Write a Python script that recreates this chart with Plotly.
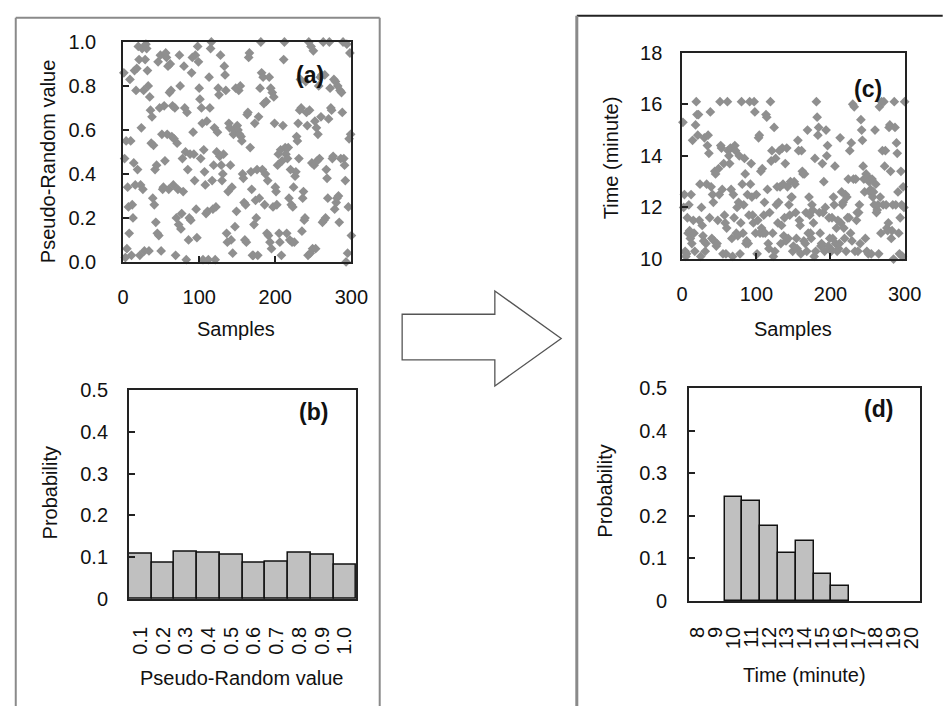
import plotly.graph_objects as go

W, H = 948, 706

# ---------------- data ----------------
# (a) pseudo-random values, 300 samples (band by band)
a_values = [
    0.86, 0.47, 0.02, 0.55, 0.06, 0.34, 0.25, 0.13, 0.83, 0.55, 0.03, 0.26, 0.20, 0.45, 0.87,
    0.35, 0.78, 0.88, 0.42, 0.98, 0.92, 0.03, 0.35, 0.61, 0.97, 0.33, 0.78, 0.05, 0.92, 0.99,
    0.97, 0.87, 0.80, 0.05, 0.75, 0.69, 0.54, 0.66, 0.29, 0.53, 0.26, 0.42, 0.18, 0.44, 0.13,
    0.91, 0.12, 0.70, 0.94, 0.05, 0.58, 0.33, 0.34, 0.71, 0.46, 0.95, 0.93, 0.58, 0.89, 0.33,
    0.77, 0.90, 0.78, 0.57, 0.71, 0.35, 0.56, 0.70, 0.03, 0.20, 0.54, 0.33, 0.17, 0.94, 0.80,
    0.15, 0.22, 0.47, 0.32, 0.89, 0.70, 0.50, 0.01, 0.68, 0.42, 0.10, 0.20, 0.49, 0.19, 0.86,
    0.93, 0.59, 0.49, 0.37, 0.94, 0.24, 0.11, 0.98, 0.91, 0.79, 0.74, 0.47, 0.70, 0.63, 0.01,
    0.51, 0.41, 0.35, 0.22, 0.64, 0.23, 0.01, 0.84, 0.70, 0.97, 1.00, 0.37, 0.24, 0.44, 0.61,
    0.01, 0.25, 0.50, 0.59, 0.79, 0.76, 0.48, 0.94, 0.44, 0.37, 0.40, 0.49, 0.89, 0.85, 0.78,
    0.13, 0.09, 0.32, 0.63, 0.61, 0.44, 0.10, 0.34, 0.04, 0.58, 0.60, 0.16, 0.79, 0.23, 0.62,
    0.60, 0.78, 0.58, 0.80, 0.57, 0.55, 0.40, 0.38, 0.27, 0.10, 0.26, 0.09, 0.67, 0.68, 0.93,
    0.95, 0.52, 0.41, 0.33, 0.03, 0.03, 0.17, 0.63, 0.28, 0.20, 0.42, 0.03, 0.66, 0.29, 0.79,
    1.00, 0.86, 0.42, 0.84, 0.72, 0.26, 0.40, 0.73, 0.13, 0.37, 0.12, 0.84, 0.09, 0.79, 0.06,
    0.77, 0.25, 0.75, 0.63, 0.34, 0.32, 0.26, 0.44, 0.49, 0.13, 0.09, 0.51, 0.03, 0.46, 0.62,
    0.92, 1.00, 0.52, 0.49, 0.13, 0.47, 0.52, 0.29, 0.10, 0.42, 0.26, 0.09, 0.25, 0.34, 0.09,
    0.39, 0.41, 0.57, 0.55, 0.63, 0.47, 0.69, 0.83, 0.70, 0.14, 0.29, 0.32, 0.19, 0.20, 0.82,
    0.68, 0.62, 0.03, 1.00, 0.69, 0.04, 0.98, 0.45, 0.06, 0.96, 0.44, 0.64, 0.06, 0.61, 0.46,
    0.58, 0.80, 0.47, 0.84, 0.66, 0.85, 0.18, 1.00, 0.19, 0.85, 0.20, 0.42, 0.38, 0.29, 0.65,
    1.00, 0.79, 0.70, 0.69, 0.47, 0.48, 0.83, 0.24, 0.82, 0.27, 0.29, 0.80, 0.30, 0.18, 0.78,
    0.47, 0.77, 0.68, 1.00, 0.47, 0.44, 0.37, 0.00, 0.99, 0.04, 0.25, 0.56, 0.95, 0.58, 0.12,
]

# (c) sampled times in minutes, 300 samples
c_values = [
    15.3, 12.0, 12.5, 10.3, 10.1, 10.2, 11.6, 11.0, 12.1, 11.1, 10.8, 12.5, 10.6, 14.6, 11.5,
    11.0, 10.3, 15.2, 16.1, 15.6, 14.8, 15.6, 11.5, 12.9, 10.1, 12.0, 11.3, 10.9, 10.7, 14.7,
    10.3, 10.6, 12.9, 14.4, 14.8, 14.1, 11.6, 15.7, 12.8, 10.8, 12.5, 12.2, 10.7, 13.4, 13.3,
    10.5, 10.6, 11.5, 13.5, 12.5, 16.1, 14.4, 14.3, 12.7, 10.2, 13.7, 11.7, 11.4, 10.2, 11.2,
    16.1, 14.2, 14.0, 13.7, 14.3, 12.7, 10.8, 10.1, 12.5, 11.6, 14.4, 14.2, 11.0, 12.0, 10.9,
    12.2, 14.0, 10.2, 11.4, 16.1, 12.9, 11.0, 12.1, 13.9, 13.3, 10.6, 10.7, 12.5, 10.6, 11.7,
    16.1, 12.9, 13.7, 12.4, 11.7, 11.4, 16.1, 15.7, 11.0, 12.5, 10.2, 11.5, 14.7, 14.8, 11.0,
    13.4, 11.2, 13.5, 11.0, 11.7, 12.2, 11.0, 15.6, 15.5, 12.7, 10.6, 10.4, 11.8, 16.1, 13.8,
    14.2, 11.0, 10.1, 15.1, 10.3, 13.9, 12.1, 12.8, 11.4, 12.2, 14.2, 12.8, 10.6, 11.3, 14.3,
    12.9, 10.9, 11.6, 13.7, 10.7, 14.3, 12.8, 10.8, 12.1, 11.7, 13.0, 12.4, 12.4, 10.3, 10.5,
    13.0, 12.9, 11.8, 10.8, 10.4, 14.6, 14.2, 11.5, 11.3, 10.2, 14.2, 13.4, 13.3, 10.7, 13.3,
    10.6, 11.8, 10.3, 15.0, 11.0, 12.4, 11.7, 11.0, 10.8, 12.1, 11.9, 11.4, 10.1, 13.9, 10.3,
    16.1, 15.5, 14.8, 15.1, 11.8, 11.0, 10.5, 10.6, 13.7, 11.8, 13.0, 10.3, 12.0, 15.0, 14.0,
    14.4, 10.5, 11.6, 10.8, 10.4, 10.3, 11.6, 10.8, 12.4, 12.1, 13.6, 10.6, 11.2, 10.3, 11.5,
    10.4, 10.6, 14.7, 11.4, 12.6, 12.1, 12.2, 11.2, 10.8, 12.5, 10.3, 12.4, 11.6, 13.1, 11.6,
    14.2, 11.0, 14.5, 10.7, 16.0, 13.1, 15.9, 10.3, 13.1, 11.5, 11.8, 10.3, 11.8, 12.1, 10.6,
    15.4, 15.0, 14.6, 13.6, 13.1, 12.6, 10.8, 13.3, 10.3, 13.2, 10.2, 13.0, 12.6, 12.7, 10.2,
    13.1, 12.4, 12.6, 12.1, 15.0, 12.9, 11.8, 11.9, 12.1, 10.2, 15.9, 12.4, 11.0, 16.1, 14.2,
    12.1, 16.1, 13.6, 14.2, 12.1, 11.2, 11.1, 11.4, 15.1, 15.2, 13.4, 10.8, 11.1, 12.1, 10.0,
    16.1, 15.1, 12.1, 14.5, 14.1, 12.6, 11.0, 10.2, 11.6, 13.4, 12.1, 10.1, 12.8, 12.0, 16.1,
]

samples = list(range(1, len(a_values) + 1))

# (b) histogram of pseudo-random values
b_categories = ["0.1", "0.2", "0.3", "0.4", "0.5", "0.6", "0.7", "0.8", "0.9", "1.0"]
b_values = [0.109, 0.087, 0.114, 0.110, 0.106, 0.087, 0.090, 0.110, 0.106, 0.083]

# (d) histogram of times
d_categories = ["8", "9", "10", "11", "12", "13", "14", "15", "16", "17", "18", "19", "20"]
d_values = [None, None, 0.244, 0.234, 0.176, 0.112, 0.142, 0.064, 0.036, None, None, None, None]

# ---------------- helpers ----------------
def fx(x):
    return x / W

def fy(y):
    return 1 - y / H

FONT = "Liberation Sans, Arial, sans-serif"
TXT = "#111111"
TICKSZ = 20
AXC = "#222222"

def axis(dom, **kw):
    base = dict(domain=dom, showline=True, mirror=True, linecolor=AXC, linewidth=1.8,
                ticks="inside", ticklen=6, tickwidth=1.5, tickcolor=AXC,
                showgrid=False, zeroline=False,
                tickfont=dict(family=FONT, size=TICKSZ, color=TXT))
    base.update(kw)
    return base

fig = go.Figure()

MK = dict(symbol="diamond", size=7.5, color="#8f8f8f", line=dict(width=0))

fig.add_trace(go.Scatter(x=samples, y=a_values, mode="markers", marker=MK,
                         xaxis="x", yaxis="y", cliponaxis=False, showlegend=False))
fig.add_trace(go.Bar(x=b_categories, y=b_values, xaxis="x2", yaxis="y2",
                     marker=dict(color="#c0c0c0", line=dict(color="#111111", width=1.5)),
                     showlegend=False))
fig.add_trace(go.Scatter(x=samples, y=c_values, mode="markers", marker=MK,
                         xaxis="x3", yaxis="y3", cliponaxis=False, showlegend=False))
fig.add_trace(go.Bar(x=d_categories, y=d_values, xaxis="x4", yaxis="y4",
                     marker=dict(color="#c0c0c0", line=dict(color="#111111", width=1.5)),
                     showlegend=False))

layout = dict(
    width=W, height=H, margin=dict(l=0, r=0, t=0, b=0),
    paper_bgcolor="white", plot_bgcolor="white", bargap=0,
    font=dict(family=FONT, size=TICKSZ, color=TXT),
    xaxis=axis([fx(120), fx(354)], anchor="y", range=[0, 300], dtick=100, tick0=0,
               ticklabelstandoff=16),
    yaxis=axis([fy(259), fy(32)], anchor="x", range=[0, 1], dtick=0.2, tick0=0,
               tickformat=".1f", ticklabelstandoff=21),
    xaxis2=axis([fx(126), fx(359)], anchor="y2", type="category", ticks="",
                tickangle=-90, ticklabelstandoff=18, tickmode="array",
                tickvals=b_categories, ticktext=b_categories,
                categoryorder="array", categoryarray=b_categories),
    yaxis2=axis([fy(607), fy(391)], anchor="x2", range=[0, 0.5], dtick=0.1, tick0=0,
                ticklabelstandoff=15),
    xaxis3=axis([fx(693), fx(921)], anchor="y3", range=[0, 300], dtick=100, tick0=0,
                ticklabelstandoff=16),
    yaxis3=axis([fy(256), fy(43)], anchor="x3", range=[10, 18], dtick=2, tick0=10,
                ticklabelstandoff=14),
    xaxis4=axis([fx(700), fx(937)], anchor="y4", type="category", ticks="",
                tickangle=-90, ticklabelstandoff=16, tickmode="array",
                tickvals=d_categories, ticktext=d_categories,
                categoryorder="array", categoryarray=d_categories),
    yaxis4=axis([fy(609), fy(389)], anchor="x4", range=[0, 0.5], dtick=0.1, tick0=0,
                ticklabelstandoff=16),
)
fig.update_layout(**layout)

# axis titles and panel labels (as text annotations)
def ann(text, x, y, angle=0, size=TICKSZ, bold=False):
    t = f"<b>{text}</b>" if bold else text
    fig.add_annotation(text=t, x=fx(x), y=fy(y), xref="paper", yref="paper",
                       showarrow=False, textangle=angle, xanchor="center", yanchor="middle",
                       font=dict(family=FONT, size=size, color=TXT))

ann("Pseudo-Random value", 43, 155, angle=-90)
ann("Samples", 236, 328)
ann("Probability", 45, 497, angle=-90)
ann("Pseudo-Random value", 241, 688)
ann("Time (minute)", 620, 151, angle=-90)
ann("Samples", 807, 328)
ann("Probability", 613, 496, angle=-90)
ann("Time (minute)", 818, 685)
ann("(a)", 312, 66, size=23, bold=True)
ann("(b)", 315, 414, size=23, bold=True)
ann("(c)", 883, 80, size=23, bold=True)
ann("(d)", 894, 411, size=23, bold=True)

# panel frames (they run past the bottom edge of the picture)
GRAY = "#8a8a8a"
def seg(x0, y0, x1, y1, color, width):
    return dict(type="line", xref="paper", yref="paper", x0=fx(x0), x1=fx(x1),
                y0=fy(y0), y1=fy(y1), line=dict(color=color, width=width))

shapes = [
    seg(10, 7, 383, 7, GRAY, 2),
    seg(10, 7, 10, 760, GRAY, 2),
    seg(383, 7, 383, 760, GRAY, 2),
    seg(585, 5, 960, 5, "#222222", 2),
    seg(585, 5, 585, 760, GRAY, 3),
]
# block arrow between the two panels
arrow_pts = [(406, 313), (501, 313), (501, 289), (569, 338), (501, 387), (501, 360), (406, 360)]
path = "M " + " L ".join(f"{fx(x):.5f},{fy(y):.5f}" for x, y in arrow_pts) + " Z"
shapes.append(dict(type="path", xref="paper", yref="paper", path=path,
                   line=dict(color="#555555", width=1.3), fillcolor="white"))
fig.update_layout(shapes=shapes)

fig.write_html("out.html")
